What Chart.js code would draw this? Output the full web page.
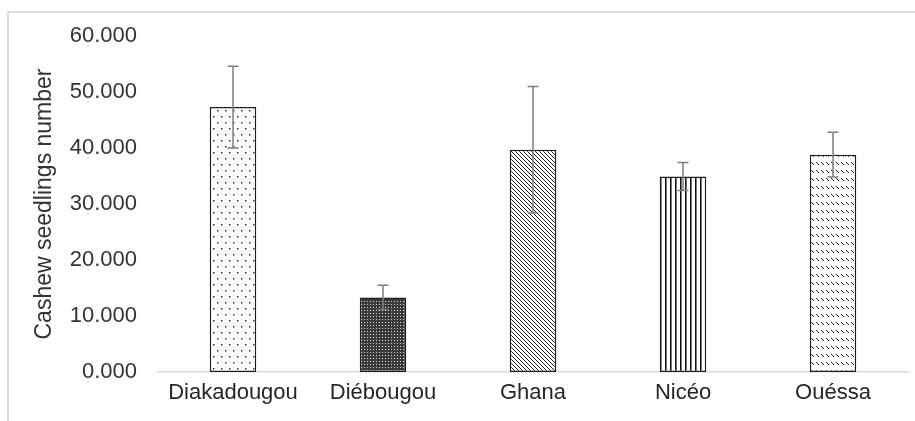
<!DOCTYPE html>
<html>
<head>
<meta charset="utf-8">
<script src="https://cdn.jsdelivr.net/npm/chart.js@4.4.1/dist/chart.umd.min.js"></script>
<style>
  html, body { margin: 0; padding: 0; background: #fff; }
  #wrap { position: relative; width: 915px; height: 421px; }
  #frame {
    position: absolute; left: 7px; top: 11px; right: 0; bottom: 0;
    border-top: 2px solid #dcdcdc; border-left: 2px solid #dcdcdc;
    pointer-events: none;
  }
</style>
</head>
<body>
<div id="wrap">
  <canvas id="chart" width="915" height="421"></canvas>
  <div id="frame"></div>
</div>
<script>
// Data (values in thousands)
const sites     = ['Diakadougou', 'Diébougou', 'Ghana', 'Nicéo', 'Ouéssa'];
const seedlings = [47.3, 13.3, 39.7, 34.9, 38.8];
const errors    = [7.3, 2.2, 11.3, 2.5, 4.0];
const yTicks    = [0, 10, 20, 30, 40, 50, 60];

// --- fill patterns, one per bar ---
function makePattern(w, h, drawFn) {
  const c = document.createElement('canvas');
  c.width = w; c.height = h;
  const g = c.getContext('2d');
  g.fillStyle = '#fff';
  g.fillRect(0, 0, w, h);
  drawFn(g);
  return g.createPattern(c, 'repeat');
}

const ctxMain = document.getElementById('chart').getContext('2d');

const dots = makePattern(8, 12, g => {
  g.fillStyle = '#333';
  g.fillRect(1, 2, 1.5, 1.5);
  g.fillRect(5, 8, 1.5, 1.5);
});
const darkCheck = makePattern(3, 3, g => {
  g.fillStyle = '#3a3a3a';
  g.fillRect(0, 0, 3, 3);
  g.fillStyle = '#d8d8d8';
  g.fillRect(1, 1, 1, 1);
});
const diagDense = makePattern(4, 4, g => {
  g.fillStyle = '#222';
  for (let i = 0; i < 4; i++) g.fillRect(i, i, 1, 1);
});
const vertLines = makePattern(5, 4, g => {
  g.fillStyle = '#111';
  g.fillRect(0, 0, 1, 4);
  g.fillStyle = '#777';
  g.fillRect(1, 0, 1, 4);
});
const dashRows = makePattern(5, 8, g => {
  g.fillStyle = '#222';
  g.fillRect(1, 2, 1, 1);
  g.fillRect(2, 3, 1, 1);
  g.fillRect(3, 4, 1, 1);
});

const fills = [dots, darkCheck, diagDense, vertLines, dashRows];

// --- error bars drawn through the y scale ---
const errorBars = {
  id: 'errorBars',
  afterDatasetsDraw(chart) {
    const meta = chart.getDatasetMeta(0);
    const y = chart.scales.y;
    const c = chart.ctx;
    c.save();
    c.strokeStyle = '#7f7f7f';
    c.lineWidth = 1.5;
    meta.data.forEach((bar, i) => {
      const top = y.getPixelForValue(seedlings[i] + errors[i]);
      const bot = y.getPixelForValue(seedlings[i] - errors[i]);
      const cap = 5.5;
      c.beginPath();
      c.moveTo(bar.x, top); c.lineTo(bar.x, bot);
      c.moveTo(bar.x - cap, top); c.lineTo(bar.x + cap, top);
      c.moveTo(bar.x - cap, bot); c.lineTo(bar.x + cap, bot);
      c.stroke();
    });
    c.restore();
  }
};

const fontFam = "'Liberation Sans', Arial, sans-serif";

new Chart(ctxMain, {
  type: 'bar',
  data: {
    labels: sites,
    datasets: [{
      data: seedlings,
      backgroundColor: fills,
      borderColor: '#1e1e1e',
      borderWidth: 1.5,
      borderSkipped: false,
      categoryPercentage: 1,
      barPercentage: 0.31,
    }],
  },
  options: {
    responsive: false,
    animation: false,
    layout: { padding: { top: 36, right: 7, bottom: 0, left: 0 } },
    plugins: {
      legend: { display: false },
      tooltip: { enabled: false },
    },
    scales: {
      x: {
        grid: { display: false, drawTicks: false },
        border: { display: true, color: '#d9d9d9', width: 1.5 },
        ticks: {
          color: '#262626',
          padding: 8,
          maxRotation: 0,
          autoSkip: false,
          font: { size: 22, family: fontFam },
        },
        afterFit: (s) => { s.height = 49; },
      },
      y: {
        min: 0,
        max: 60,
        afterBuildTicks: (s) => { s.ticks = yTicks.map(v => ({ value: v })); },
        grid: { display: false, drawTicks: false },
        border: { display: false },
        ticks: {
          color: '#333',
          padding: 21,
          font: { size: 22, family: fontFam },
          callback: (v) => Number(v).toFixed(3),
        },
        title: {
          display: true,
          text: 'Cashew seedlings number',
          color: '#333',
          font: { size: 23, family: fontFam },
          padding: { top: 31, bottom: 0 },
        },
        afterFit: (s) => { s.width = 158; },
      },
    },
  },
  plugins: [errorBars],
});
</script>
</body>
</html>
